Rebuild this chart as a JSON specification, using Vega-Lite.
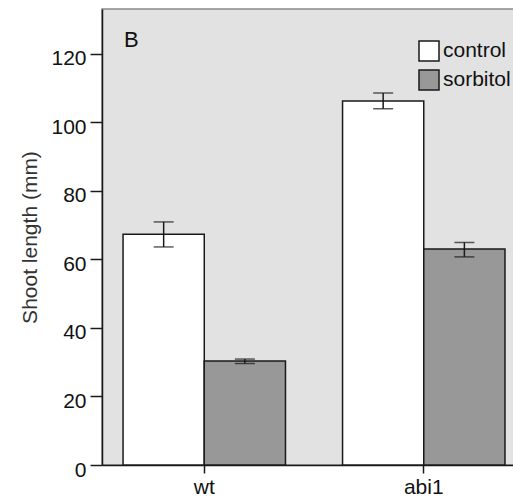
{
  "$schema": "https://vega.github.io/schema/vega-lite/v6.json",
  "width": 412,
  "height": 456,
  "autosize": "none",
  "padding": {"left": 102, "top": 9, "right": 0, "bottom": 36},
  "config": {
    "font": "Liberation Sans",
    "view": {"fill": "#e2e2e2", "stroke": "#8a8a8a", "strokeWidth": 1.5}
  },
  "data": {
    "values": [
      {"genotype": "wt", "treatment": "control", "mean": 67.3, "lo": 63.6, "hi": 70.9},
      {"genotype": "wt", "treatment": "sorbitol", "mean": 30.3, "lo": 29.6, "hi": 30.9},
      {"genotype": "abi1", "treatment": "control", "mean": 106.2, "lo": 103.9, "hi": 108.5},
      {"genotype": "abi1", "treatment": "sorbitol", "mean": 63.0, "lo": 60.7, "hi": 64.9}
    ]
  },
  "encoding": {
    "x": {
      "field": "genotype",
      "type": "nominal",
      "sort": ["wt", "abi1"],
      "scale": {"paddingInner": 0.26, "paddingOuter": 0.0685, "align": 0.7},
      "axis": {
        "title": null,
        "labelAngle": 0,
        "domainColor": "#1a1a1a",
        "domainWidth": 1.5,
        "tickColor": "#1a1a1a",
        "tickWidth": 1.5,
        "tickSize": 8,
        "labelFontSize": 21,
        "labelColor": "#111111",
        "labelPadding": 3
      }
    }
  },
  "layer": [
    {
      "mark": {"type": "bar", "stroke": "#1a1a1a", "strokeWidth": 1.5},
      "encoding": {
        "xOffset": {"field": "treatment", "type": "nominal", "sort": ["control", "sorbitol"], "scale": {"paddingInner": 0, "paddingOuter": 0}},
        "y": {
          "field": "mean",
          "type": "quantitative",
          "scale": {"domain": [0, 133], "nice": false},
          "axis": {
            "title": "Shoot length (mm)",
            "values": [0, 20, 40, 60, 80, 100, 120],
            "grid": false,
            "domainColor": "#1a1a1a",
            "domainWidth": 1.5,
            "tickColor": "#1a1a1a",
            "tickWidth": 1.5,
            "tickSize": 12,
            "labelFontSize": 21,
            "labelColor": "#111111",
            "labelPadding": 4,
            "labelOffset": 5,
            "titleFontSize": 21,
            "titleFontWeight": "normal",
            "titleColor": "#333333",
            "titlePadding": 10
          }
        },
        "fill": {
          "field": "treatment",
          "type": "nominal",
          "scale": {"domain": ["control", "sorbitol"], "range": ["#ffffff", "#989898"]},
          "legend": {
            "title": null,
            "orient": "none",
            "legendX": 316,
            "legendY": 31,
            "symbolType": "square",
            "symbolSize": 400,
            "symbolStrokeColor": "#1a1a1a",
            "symbolStrokeWidth": 1.5,
            "labelFontSize": 21,
            "labelColor": "#111111",
            "rowPadding": 3,
            "labelOffset": 3,
            "padding": 0
          }
        }
      }
    },
    {
      "mark": {"type": "rule", "stroke": "#1a1a1a", "strokeWidth": 1.5},
      "encoding": {
        "xOffset": {"field": "treatment", "type": "nominal", "sort": ["control", "sorbitol"]},
        "y": {"field": "lo", "type": "quantitative"},
        "y2": {"field": "hi"}
      }
    },
    {
      "mark": {"type": "tick", "size": 20, "thickness": 1.5, "color": "#1a1a1a", "orient": "horizontal"},
      "encoding": {
        "xOffset": {"field": "treatment", "type": "nominal", "sort": ["control", "sorbitol"]},
        "y": {"field": "lo", "type": "quantitative"}
      }
    },
    {
      "mark": {"type": "tick", "size": 20, "thickness": 1.5, "color": "#1a1a1a", "orient": "horizontal"},
      "encoding": {
        "xOffset": {"field": "treatment", "type": "nominal", "sort": ["control", "sorbitol"]},
        "y": {"field": "hi", "type": "quantitative"}
      }
    },
    {
      "data": {"values": [{"label": "B", "genotype": "wt", "pos": 121.9}]},
      "mark": {"type": "text", "fontSize": 22, "align": "left", "baseline": "alphabetic", "dx": 1, "color": "#111111"},
      "encoding": {
        "x": {"field": "genotype", "type": "nominal", "sort": ["wt", "abi1"], "bandPosition": 0},
        "y": {"field": "pos", "type": "quantitative"},
        "text": {"field": "label"}
      }
    }
  ]
}
